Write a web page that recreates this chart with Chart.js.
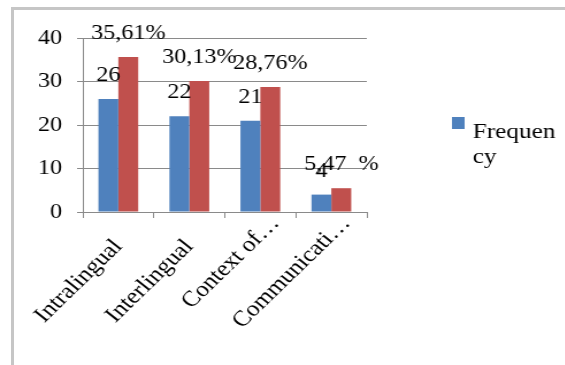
<!DOCTYPE html>
<html>
<head>
<meta charset="utf-8">
<script src="https://cdn.jsdelivr.net/npm/chart.js@4/dist/chart.umd.min.js"></script>
<style>
  html, body { margin: 0; padding: 0; background: #fff; overflow: hidden; }
  #frame {
    position: absolute; left: 11px; top: 7px; width: 560px; height: 365px;
    border-left: 3px solid #c6c6c6; border-top: 3px solid #c6c6c6;
  }
  /* the reference is stretched sideways, so the chart is drawn narrow and scaled */
  #wrap {
    position: absolute; left: 0; top: 0; width: 491px; height: 365px;
    transform: scaleX(1.15); transform-origin: 0 0;
  }
</style>
</head>
<body>
<div id="frame"></div>
<div id="wrap"><canvas id="chart"></canvas></div>
<script>
// data
const categories = ['Intralingual', 'Interlingual', 'Context of…', 'Communicati…'];
const frequency = [26, 22, 21, 4];
const percentage = [35.61, 30.13, 28.76, 5.47];
const frequencyLabels = ['26', '22', '21', '4'];
const percentLabels = ['35,61%', '30,13%', '28,76%', '5,47  %'];
const yTicks = [0, 10, 20, 30, 40];
const legendLines = ['Frequen', 'cy'];

const SERIF = '"Liberation Serif", "Times New Roman", serif';
const GRID = '#8a8a8a';

// value labels above the bars
const barLabels = {
    id: 'barLabels',
    afterDatasetsDraw(chart) {
        const ctx = chart.ctx;
        const texts = [frequencyLabels, percentLabels];
        ctx.save();
        ctx.font = '21px ' + SERIF;
        ctx.fillStyle = '#000';
        ctx.textAlign = 'center';
        ctx.textBaseline = 'alphabetic';
        chart.data.datasets.forEach((ds, i) => {
            chart.getDatasetMeta(i).data.forEach((bar, j) => {
                ctx.fillText(texts[i][j], bar.x, bar.y - 18);
            });
        });
        ctx.restore();
    }
};

// slanted category labels, Excel style (cut labels sit a bit further out)
const slantLabels = {
    id: 'slantLabels',
    afterDraw(chart) {
        const ctx = chart.ctx;
        const xs = chart.scales.x;
        const ang = -48 * Math.PI / 180;
        ctx.save();
        ctx.font = '22px ' + SERIF;
        ctx.fillStyle = '#000';
        ctx.textAlign = 'right';
        ctx.textBaseline = 'middle';
        categories.forEach((lab, i) => {
            const cut = lab.endsWith('…');
            ctx.save();
            ctx.translate(xs.getPixelForTick(i), xs.top + 31);
            ctx.rotate(ang);
            ctx.fillText(lab, cut ? 26 : 0, cut ? -6 : 0);
            ctx.restore();
        });
        ctx.restore();
    }
};

// legend on the right, text wrapped like the original
const sideLegend = {
    id: 'sideLegend',
    afterDraw(chart) {
        const ctx = chart.ctx;
        ctx.save();
        ctx.fillStyle = chart.data.datasets[0].backgroundColor;
        ctx.fillRect(393, 117, 11, 12);
        ctx.font = '22px ' + SERIF;
        ctx.fillStyle = '#000';
        ctx.textBaseline = 'alphabetic';
        legendLines.forEach((t, i) => ctx.fillText(t, 411, 138 + i * 25));
        ctx.restore();
    }
};

new Chart(document.getElementById('chart'), {
    type: 'bar',
    data: {
        labels: categories,
        datasets: [
            { label: 'Frequency', data: frequency, backgroundColor: '#4f81bd' },
            { label: 'Percentage', data: percentage, backgroundColor: '#c0504d' }
        ]
    },
    options: {
        responsive: true,
        maintainAspectRatio: false,
        animation: false,
        categoryPercentage: 0.56,
        barPercentage: 1,
        layout: { padding: { top: 38, right: 172, left: 0, bottom: 0 } },
        plugins: { legend: { display: false }, tooltip: { enabled: false } },
        scales: {
            x: {
                grid: { drawOnChartArea: false, drawTicks: true, tickLength: 6, color: GRID, offset: true },
                border: { color: GRID, width: 1 },
                ticks: { display: false },
                afterFit(scale) {
                    scale.height = 153;
                    scale.paddingLeft = 0;
                    scale.paddingRight = 0;
                }
            },
            y: {
                min: 0, max: 40,
                afterBuildTicks(scale) { scale.ticks = yTicks.map(v => ({ value: v })); },
                grid: { color: GRID, tickLength: 5, lineWidth: 1 },
                border: { color: GRID, width: 1 },
                ticks: { color: '#000', font: { family: SERIF, size: 21 }, padding: 13 },
                afterFit(scale) {
                    scale.width = 72;
                    scale.paddingTop = 0;
                    scale.paddingBottom = 0;
                }
            }
        }
    },
    plugins: [barLabels, slantLabels, sideLegend]
});
</script>
</body>
</html>
